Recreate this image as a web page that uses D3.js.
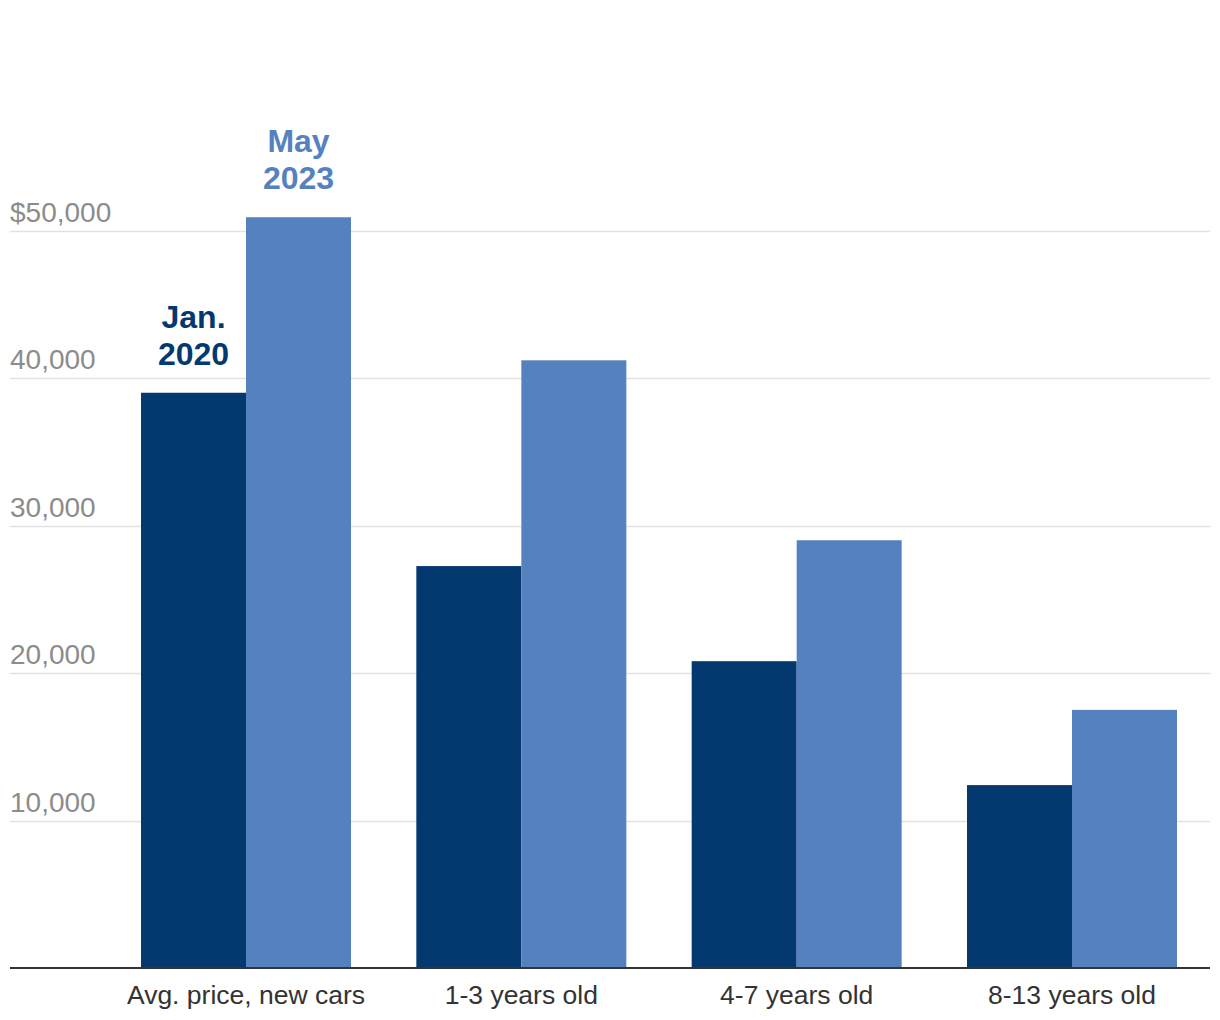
<!DOCTYPE html>
<html><head><meta charset="utf-8">
<script src="https://cdn.jsdelivr.net/npm/d3@7"></script>
<style>body{margin:0;background:#fff;} svg{display:block;}</style>
</head><body>
<script>
const categories = ["Avg. price, new cars", "1-3 years old", "4-7 years old", "8-13 years old"];
const seriesNames = ["Jan. 2020", "May 2023"];
const jan2020 = [39000, 27250, 20800, 12400];
const may2023 = [50900, 41200, 29000, 17500];
const tickValues = [10000, 20000, 30000, 40000, 50000];
const tickLabels = ["10,000", "20,000", "30,000", "40,000", "$50,000"];
const colors = ["#03396f", "#5582bf"];

const W = 1220, H = 1020;
const svg = d3.select("body").append("svg").attr("width", W).attr("height", H);
const left = 10, right = 1210, baseY = 968;

const y = d3.scaleLinear().domain([0, 50000]).range([baseY, 230.5]);
const x0 = d3.scaleBand().domain(categories).range([113.47, 1204.53]).paddingInner(0.2373).paddingOuter(0.1);
const x1 = d3.scaleBand().domain(seriesNames).range([0, x0.bandwidth()]);

// grid
svg.append("g").selectAll("line").data(tickValues).join("line")
  .attr("x1", left).attr("x2", right)
  .attr("y1", d => Math.round(y(d)) + 0.5).attr("y2", d => Math.round(y(d)) + 0.5)
  .attr("stroke", "#e2e2e2").attr("stroke-width", 1.5);
svg.append("g").selectAll("text").data(tickValues).join("text")
  .attr("x", left).attr("y", d => y(d) - 9)
  .attr("font-family", "'Liberation Sans', Arial, sans-serif").attr("font-size", 28)
  .attr("fill", "#8c8c8c")
  .text((d, i) => tickLabels[i]);

// bars
const data = categories.map((c, i) => ({c, vals: [jan2020[i], may2023[i]]}));
const g = svg.append("g").selectAll("g").data(data).join("g")
  .attr("transform", d => `translate(${x0(d.c)},0)`);
g.selectAll("rect").data(d => d.vals.map((v, j) => ({v, s: seriesNames[j], j}))).join("rect")
  .attr("x", d => x1(d.s)).attr("width", x1.bandwidth())
  .attr("y", d => y(d.v)).attr("height", d => baseY - y(d.v))
  .attr("fill", d => colors[d.j]);

// baseline
svg.append("line").attr("x1", left).attr("x2", right).attr("y1", baseY).attr("y2", baseY)
  .attr("stroke", "#333").attr("stroke-width", 2);

// x axis labels
svg.append("g").selectAll("text").data(categories).join("text")
  .attr("x", d => x0(d) + x0.bandwidth() / 2).attr("y", 1004)
  .attr("text-anchor", "middle")
  .attr("font-family", "'Liberation Sans', Arial, sans-serif").attr("font-size", 26.5)
  .attr("fill", "#333").text(d => d);

// series annotations on first group
const c0 = categories[0];
const ann = [
  {lines: ["Jan.", "2020"], j: 0, v: jan2020[0]},
  {lines: ["May", "2023"], j: 1, v: may2023[0]}
];
ann.forEach(a => {
  const cx = x0(c0) + x1(seriesNames[a.j]) + x1.bandwidth() / 2;
  const t = svg.append("text").attr("text-anchor", "middle")
    .attr("font-family", "'Liberation Sans', Arial, sans-serif").attr("font-weight", "bold")
    .attr("font-size", 32).attr("fill", colors[a.j]);
  a.lines.forEach((l, k) => {
    t.append("tspan").attr("x", cx).attr("y", y(a.v) - 28 + (k - 1) * 37).text(l);
  });
});
</script>
</body></html>
